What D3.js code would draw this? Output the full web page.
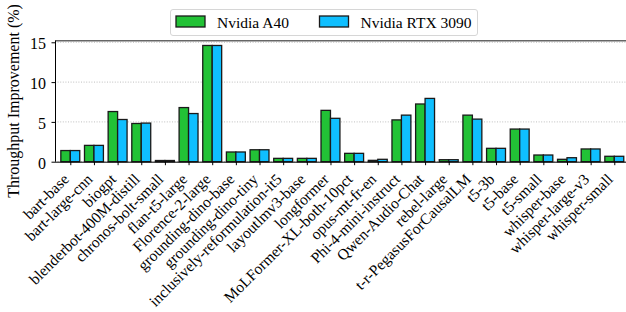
<!DOCTYPE html>
<html>
<head>
<meta charset="utf-8">
<script src="https://cdn.jsdelivr.net/npm/d3@7"></script>
<style>
body { margin: 0; background: #fff; }
text { font-family: "Liberation Serif", "Times New Roman", serif; }
</style>
</head>
<body>
<svg id="svg" width="626" height="312"></svg>
<script>
var models = ["bart-base", "bart-large-cnn", "biogpt", "blenderbot-400M-distill",
	"chronos-bolt-small", "flan-t5-large", "Florence-2-large", "grounding-dino-base",
	"grounding-dino-tiny", "inclusively-reformulation-it5", "layoutlmv3-base", "longformer",
	"MoLFormer-XL-both-10pct", "opus-mt-fr-en", "Phi-4-mini-instruct", "Qwen-Audio-Chat",
	"rebel-large", "t-r-PegasusForCausalLM", "t5-3b", "t5-base", "t5-small",
	"whisper-base", "whisper-large-v3", "whisper-small"]
var a40 = [1.4, 2.05, 6.3, 4.8, 0.15, 6.8, 14.6, 1.22, 1.5, 0.42, 0.42, 6.45,
	1.05, 0.17, 5.25, 7.25, 0.25, 5.85, 1.68, 4.1, 0.84, 0.3, 1.6, 0.68]
var rtx3090 = [1.4, 2.05, 5.3, 4.85, 0.15, 6.05, 14.6, 1.22, 1.5, 0.42, 0.42, 5.45,
	1.05, 0.3, 5.85, 7.95, 0.25, 5.35, 1.68, 4.1, 0.84, 0.5, 1.6, 0.68]
var yTicks = [0, 5, 10, 15]
var series = [
	{name: "Nvidia A40", values: a40, color: "#22c236", off: -0.2},
	{name: "Nvidia RTX 3090", values: rtx3090, color: "#0fbfff", off: 0.2}
]

var svg = d3.select("#svg")
var plotL = 55, plotT = 40.7, plotB = 161.7
var step = 23.652

var x = d3.scaleLinear()
	.domain([0, 23])
	.range([70.3, 70.3 + 23 * step])
var y = d3.scaleLinear()
	.domain([0, 15.2])
	.range([plotB, plotT])
var barW = x(0.4) - x(0)
var plotR = x(23.65)

// grid
svg.append("g").selectAll("line")
	.data(yTicks)
	.enter().append("line")
	.attr("x1", plotL).attr("x2", plotR)
	.attr("y1", function (d) { return y(d) })
	.attr("y2", function (d) { return y(d) })
	.style("stroke", "#b0b0b0")
	.style("stroke-width", 0.8)
	.style("stroke-dasharray", "1,1.6")

// bars
series.forEach(function (s) {
	svg.append("g").selectAll("rect")
		.data(s.values)
		.enter().append("rect")
		.attr("x", function (d, i) { return x(i + s.off) - barW / 2 })
		.attr("y", function (d) { return y(d) })
		.attr("width", barW)
		.attr("height", function (d) { return y(0) - y(d) })
		.style("fill", s.color)
		.style("stroke", "#1a1a1a")
		.style("stroke-width", 1.3)
})

// top spine
svg.append("line")
	.attr("x1", plotL).attr("x2", plotR)
	.attr("y1", plotT).attr("y2", plotT)
	.style("stroke", "#666")
	.style("stroke-width", 1.5)

// axes
var xAxis = svg.append("g")
	.attr("transform", "translate(0," + plotB + ")")
	.call(d3.axisBottom(x)
		.tickValues(d3.range(models.length))
		.tickFormat(function (i) { return models[i] })
		.tickSize(3.5)
		.tickSizeOuter(0))
xAxis.select(".domain").attr("d", "M" + plotL + ",0.5H" + plotR).style("stroke", "#000")
xAxis.selectAll("text")
	.style("font-size", "15.5px")
	.style("fill", "#000")
	.attr("text-anchor", "end")
	.attr("dy", null)
	.attr("y", null)
	.attr("transform", "translate(-1,18.5) rotate(-45)")

var yAxis = svg.append("g")
	.attr("transform", "translate(" + plotL + ",0)")
	.call(d3.axisLeft(y)
		.tickValues(yTicks)
		.tickSize(3.5)
		.tickSizeOuter(0))
yAxis.select(".domain").attr("d", "M0.5," + plotB + "V" + plotT)
yAxis.selectAll("text")
	.style("font-size", "16px")
	.style("fill", "#000")
	.attr("x", -9)
	.attr("dy", "0.4em")

svg.append("text")
	.attr("transform", "translate(19,101) rotate(-90)")
	.attr("text-anchor", "middle")
	.style("font-size", "16px")
	.text("Throughput Improvement (%)")

// legend
var leg = svg.append("g")
leg.append("rect")
	.attr("x", 170.5).attr("y", 9.5)
	.attr("width", 307).attr("height", 26)
	.attr("rx", 2.5)
	.style("fill", "#fff")
	.style("stroke", "#d6d6d6")
	.style("stroke-width", 1)
var legX = [176, 319.5]
series.forEach(function (s, i) {
	leg.append("rect")
		.attr("x", legX[i]).attr("y", 16)
		.attr("width", 29).attr("height", 11)
		.style("fill", s.color)
		.style("stroke", "#1a1a1a")
		.style("stroke-width", 1.3)
	leg.append("text")
		.attr("x", legX[i] + 41).attr("y", 27.5)
		.style("font-size", "15.5px")
		.text(s.name)
})
</script>
</body>
</html>
